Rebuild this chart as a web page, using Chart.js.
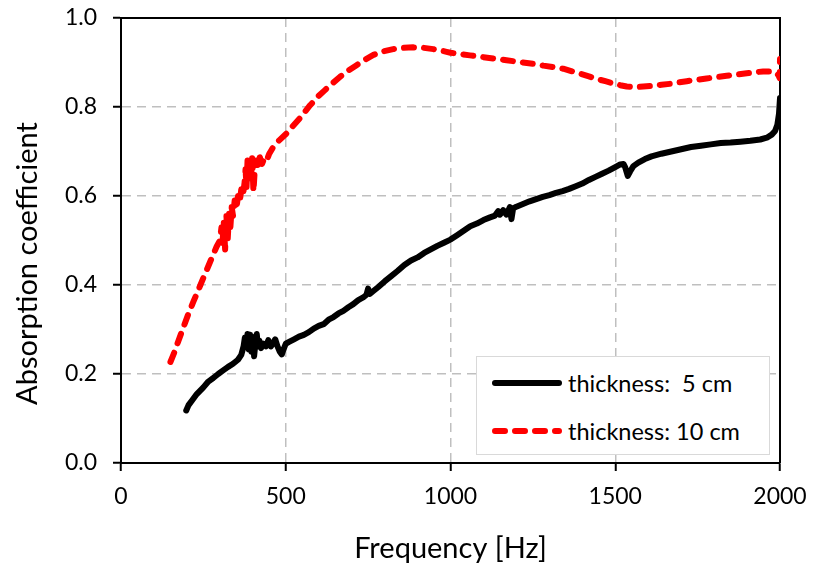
<!DOCTYPE html>
<html>
<head>
<meta charset="utf-8">
<script src="https://cdn.jsdelivr.net/npm/chart.js@4/dist/chart.umd.min.js"></script>
<style>
html,body{margin:0;padding:0;background:#fff;}
#wrap{position:relative;width:814px;height:567px;overflow:hidden;}
#legend{position:absolute;left:476px;top:356px;width:294px;height:99px;border:1px solid #d9d9d9;background:#fff;box-sizing:border-box;font-family:Lato,"Open Sans",sans-serif;font-size:23.5px;color:#000;}
.item{position:absolute;left:15px;height:30px;display:flex;align-items:center;white-space:pre;}
.item svg{margin-right:6px;}
</style>
</head>
<body>
<div id="wrap">
<canvas id="c" width="814" height="567"></canvas>
<div id="legend"></div>
</div>
<script>
// ---- data ----
const seriesLabels = ['thickness:  5 cm', 'thickness: 10 cm'];
const xTitle = 'Frequency [Hz]';
const yTitle = 'Absorption coefficient';
const xTicks = [0, 500, 1000, 1500, 2000];
const yTicks = [0.0, 0.2, 0.4, 0.6, 0.8, 1.0];

const freq5 = [198,205,215,230,250,265,280,295,310,325,340,355,365,372,376,380,384,388,392,396,400,404,408,412,416,420,425,432,440,447,455,462,468,475,482,488,493,500,510,525,540,555,570,585,600,615,630,645,660,675,690,705,720,735,745,750,755,765,780,800,820,840,860,880,900,920,940,960,980,1000,1020,1040,1060,1080,1100,1120,1135,1145,1150,1160,1170,1180,1185,1190,1200,1220,1240,1260,1280,1300,1320,1340,1360,1380,1400,1420,1440,1460,1480,1500,1515,1525,1530,1538,1545,1555,1570,1590,1610,1640,1670,1700,1730,1760,1790,1820,1850,1880,1910,1940,1960,1975,1985,1992,1997,2000];
const alpha5 = [0.118,0.130,0.140,0.155,0.170,0.183,0.191,0.200,0.208,0.216,0.223,0.232,0.243,0.262,0.282,0.260,0.290,0.255,0.288,0.250,0.283,0.240,0.270,0.290,0.262,0.275,0.258,0.268,0.262,0.276,0.262,0.270,0.278,0.262,0.250,0.244,0.255,0.268,0.272,0.278,0.284,0.288,0.294,0.302,0.308,0.312,0.322,0.328,0.336,0.342,0.350,0.357,0.366,0.372,0.378,0.392,0.380,0.386,0.395,0.408,0.420,0.432,0.445,0.455,0.462,0.472,0.480,0.488,0.495,0.502,0.512,0.522,0.532,0.538,0.546,0.552,0.556,0.566,0.558,0.568,0.558,0.575,0.548,0.572,0.576,0.582,0.588,0.593,0.598,0.602,0.607,0.611,0.616,0.622,0.628,0.636,0.643,0.650,0.657,0.665,0.671,0.672,0.665,0.645,0.655,0.667,0.675,0.683,0.689,0.695,0.700,0.705,0.710,0.713,0.716,0.719,0.720,0.722,0.724,0.727,0.731,0.738,0.746,0.760,0.785,0.820];

const freq10 = [150,160,175,190,205,220,235,250,262,275,290,300,305,308,312,316,320,324,328,332,336,340,345,350,355,360,365,370,375,378,381,384,387,390,394,398,402,406,410,415,420,428,435,442,450,462,480,503,520,543,574,600,619,640,665,690,715,740,766,795,826,857,887,918,948,970,988,1000,1029,1059,1100,1130,1170,1211,1250,1282,1310,1342,1370,1393,1420,1444,1470,1494,1515,1535,1560,1585,1605,1640,1666,1690,1717,1745,1777,1805,1838,1870,1899,1925,1949,1970,1985,1995,1999,2000];
const alpha10 = [0.227,0.245,0.276,0.306,0.336,0.363,0.389,0.416,0.437,0.460,0.486,0.500,0.530,0.495,0.540,0.480,0.555,0.505,0.560,0.530,0.575,0.555,0.590,0.570,0.600,0.585,0.615,0.600,0.630,0.660,0.620,0.680,0.640,0.670,0.630,0.685,0.610,0.660,0.680,0.670,0.690,0.672,0.685,0.680,0.695,0.710,0.725,0.741,0.756,0.775,0.804,0.825,0.838,0.852,0.868,0.882,0.894,0.906,0.917,0.925,0.930,0.933,0.934,0.933,0.930,0.927,0.924,0.922,0.919,0.916,0.912,0.909,0.905,0.901,0.897,0.893,0.890,0.886,0.880,0.875,0.869,0.863,0.858,0.853,0.849,0.846,0.845,0.846,0.847,0.850,0.852,0.855,0.858,0.861,0.864,0.867,0.870,0.873,0.876,0.878,0.880,0.880,0.878,0.872,0.865,0.908];

// ---- chart ----
const FONT = 'Lato';
const toXY = (xs, ys) => xs.map((x, i) => ({x: x, y: ys[i]}));

const framePlugin = {
  id: 'frame',
  afterLayout(chart) {
    // Excel centres the value-axis title slightly below the plot centre
    const s = chart.scales.y;
    if (!s._titlePatched) {
      const orig = s.drawTitle.bind(s);
      s.drawTitle = function () {
        const t = this.top, b = this.bottom;
        this.top = t + 23; this.bottom = b + 23;
        orig();
        this.top = t; this.bottom = b;
      };
      s._titlePatched = true;
    }
  },
  beforeDatasetsDraw(chart) {
    const {ctx, chartArea: a} = chart;
    ctx.save();
    ctx.strokeStyle = '#000';
    ctx.lineWidth = 2;
    ctx.beginPath();
    ctx.moveTo(a.left, a.top);
    ctx.lineTo(a.right, a.top);
    ctx.lineTo(a.right, a.bottom);
    ctx.stroke();
    ctx.restore();
  }
};

const gridCommon = {
  color: '#bfbfbf',
  lineWidth: 1.5,
  drawTicks: true,
  tickLength: 8,
  tickColor: '#000',
  tickWidth: 2,
  tickBorderDash: []
};
const borderCommon = {display: true, color: '#000', width: 2, dash: [9, 6]};

const chart = new Chart(document.getElementById('c'), {
  type: 'line',
  data: {
    datasets: [
      {
        label: seriesLabels[0],
        data: toXY(freq5, alpha5),
        borderColor: '#000000',
        borderWidth: 6,
        borderCapStyle: 'round',
        borderJoinStyle: 'round',
        pointRadius: 0,
        tension: 0,
        fill: false
      },
      {
        label: seriesLabels[1],
        data: toXY(freq10, alpha10),
        borderColor: '#ff0000',
        borderWidth: 6,
        borderDash: [10, 10],
        borderCapStyle: 'round',
        borderJoinStyle: 'round',
        pointRadius: 0,
        tension: 0,
        fill: false
      }
    ]
  },
  options: {
    responsive: false,
    animation: false,
    devicePixelRatio: 1,
    layout: {padding: {left: 0, right: 34, top: 18, bottom: 0}},
    plugins: {legend: {display: false}, tooltip: {enabled: false}},
    scales: {
      x: {
        type: 'linear',
        min: 0, max: 2000,
        afterBuildTicks: s => { s.ticks = xTicks.map(v => ({value: v})); },
        afterFit: s => { s.height = 104; s.paddingLeft = 0; s.paddingRight = 0; },
        grid: gridCommon,
        border: borderCommon,
        ticks: {color: '#000', padding: 12, maxRotation: 0, font: {family: FONT, size: 23}, callback: v => String(v)},
        title: {display: true, text: xTitle, color: '#000', padding: {top: 0, bottom: 1}, font: {family: FONT, size: 29}}
      },
      y: {
        type: 'linear',
        min: 0, max: 1,
        afterBuildTicks: s => { s.ticks = yTicks.map(v => ({value: v})); },
        afterFit: s => { s.width = 121; s.paddingTop = 0; s.paddingBottom = 0; },
        grid: gridCommon,
        border: borderCommon,
        ticks: {color: '#000', padding: 16, font: {family: FONT, size: 23}, callback: v => Number(v).toFixed(1)},
        title: {display: true, text: yTitle, color: '#000', padding: {top: 10, bottom: 0}, font: {family: FONT, size: 29}}
      }
    }
  },
  plugins: [framePlugin]
});

// ---- legend (HTML, built from the datasets) ----
const legendEl = document.getElementById('legend');
const itemTops = [11, 59];
chart.data.datasets.forEach((ds, i) => {
  const item = document.createElement('div');
  item.className = 'item';
  item.style.top = itemTops[i] + 'px';
  const dash = ds.borderDash ? ds.borderDash.join(',') : 'none';
  item.innerHTML = '<svg width="70" height="10"><line x1="3" y1="5" x2="67" y2="5" stroke="' + ds.borderColor +
    '" stroke-width="6" stroke-linecap="round" stroke-dasharray="' + dash + '"/></svg>';
  const span = document.createElement('span');
  span.textContent = ds.label;
  item.appendChild(span);
  legendEl.appendChild(item);
});
</script>
</body>
</html>
